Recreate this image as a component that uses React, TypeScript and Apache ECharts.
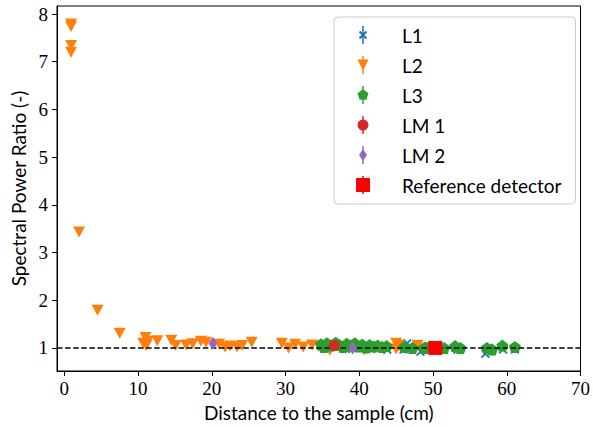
import React, { useEffect, useRef } from "react";
import * as echarts from "echarts";

// ---- data (distance cm, spectral power ratio) ----
const L1_POINTS: [number, number][] = [
  [34.9, 1.03], [35.6, 0.99], [37.0, 1.02], [38.2, 0.98], [39.4, 1.06],
  [40.5, 1.0], [41.6, 0.98], [42.6, 1.02], [43.8, 0.96], [46.0, 0.97],
  [46.5, 1.1], [48.3, 0.92], [49.4, 1.04], [53.3, 0.96], [57.1, 0.88],
  [57.5, 1.0], [59.5, 0.97], [61.1, 0.97],
];
const L2_POINTS: [number, number][] = [
  [0.9, 7.79], [0.9, 7.74], [0.9, 7.34], [0.9, 7.2],
  [2.0, 3.43], [4.5, 1.79], [7.5, 1.31],
  [10.7, 1.1], [11.0, 1.22], [11.1, 1.05], [11.3, 1.14],
  [12.6, 1.15], [14.5, 1.16], [15.1, 1.05], [16.5, 1.06], [17.4, 1.09],
  [18.5, 1.14], [19.2, 1.12], [21.0, 1.08], [21.8, 1.02], [22.5, 1.04],
  [23.4, 1.02], [24.1, 1.05], [25.4, 1.12],
  [29.5, 1.1], [30.4, 1.0], [31.3, 1.08], [32.4, 1.02], [33.6, 1.06],
  [36.0, 0.95], [40.7, 0.96], [45.0, 1.1], [45.0, 0.98], [45.4, 1.05],
  [47.9, 1.05],
];
const L3_POINTS: [number, number][] = [
  [34.8, 1.08], [35.2, 1.02], [35.6, 1.1], [36.1, 1.05], [36.8, 1.11],
  [37.3, 1.06], [37.8, 1.02], [38.3, 1.09], [38.8, 1.05], [39.4, 1.1],
  [39.9, 1.03], [40.4, 1.07], [40.9, 1.01], [41.4, 1.06], [41.9, 1.03],
  [42.5, 1.05], [43.1, 1.02], [43.7, 1.04],
  [46.1, 1.02], [47.2, 1.0], [48.8, 1.0], [49.5, 1.02], [51.5, 1.0],
  [53.0, 1.04], [53.7, 1.0], [57.3, 1.0], [58.0, 0.97], [59.4, 1.05],
  [61.1, 1.02],
];
const LM1_POINTS: [number, number][] = [[36.6, 1.05]];
const LM2_POINTS: [number, number][] = [[20.15, 1.1], [39.1, 1.0]];
const REF_POINTS: [number, number][] = [[50.3, 1.0]];

const SERIES_NAMES = ["L1", "L2", "L3", "LM 1", "LM 2", "Reference detector"];
const X_TICKS = [0, 10, 20, 30, 40, 50, 60, 70];
const Y_TICKS = [1, 2, 3, 4, 5, 6, 7, 8];
const REFERENCE_LEVEL = 1;

// ---- symbols ----
const SYM_X = "path://M1.4,0L10,8.6L8.6,10L0,1.4Z M8.6,0L10,1.4L1.4,10L0,8.6Z";
const SYM_TRI_DOWN = "path://M0,0L10,0L5,10Z";
const SYM_PENT =
  "path://M0,-1L0.951,-0.309L0.588,0.809L-0.588,0.809L-0.951,-0.309Z";
const SYM_THIN_DIAMOND = "path://M5,0L10,7L5,14L0,7Z";

// legend icons: 44x22 box, errorbar line + marker centred at (10,11)
const CORNERS = "M0,0L0.01,0L0.01,0.01Z M44,22L43.99,22L43.99,21.99Z ";
const ERRBAR = "M9.25,2L10.75,2L10.75,20L9.25,20Z ";
const ICONS = [
  "path://" + CORNERS + ERRBAR +
    "M7.2,6.8L14.2,13.8L12.8,15.2L5.8,8.2Z M12.8,6.8L14.2,8.2L7.2,15.2L5.8,13.8Z",
  "path://" + CORNERS + ERRBAR + "M4.5,5.5L15.5,5.5L10,16.5Z",
  "path://" + CORNERS + ERRBAR +
    "M10,5.2L15.52,9.21L13.41,15.69L6.59,15.69L4.48,9.21Z",
  "path://" + CORNERS + ERRBAR +
    "M10,5.5A5.5,5.5 0 1 1 10,16.5A5.5,5.5 0 1 1 10,5.5Z",
  "path://" + CORNERS + ERRBAR + "M10,5L14,11L10,17L6,11Z",
  "path://" + CORNERS + ERRBAR + "M3,4L17,4L17,18L3,18Z",
];

const SANS = "Lato";
const SERIF = "Liberation Serif";

export default function App() {
  const ref = useRef<HTMLDivElement>(null);

  useEffect(() => {
    if (!ref.current) return;
    const chart = echarts.init(ref.current, undefined, { renderer: "svg" });

    const scatter = (
      name: string,
      data: [number, number][],
      symbol: string,
      size: number | number[],
      color: string,
      z: number
    ) => ({
      name,
      type: "scatter",
      data,
      symbol,
      symbolSize: size,
      itemStyle: { color, opacity: 1 },
      z,
      emphasis: { disabled: true },
    });

    chart.setOption({
      animation: false,
      grid: {
        left: 57,
        right: 9,
        top: 6,
        bottom: 56,
        show: true,
        borderColor: "#000",
        borderWidth: 1,
        backgroundColor: "transparent",
      },
      legend: {
        orient: "vertical",
        left: 334,
        top: 17,
        itemWidth: 44,
        itemHeight: 22,
        itemGap: 8,
        padding: [7, 14, 8, 19],
        backgroundColor: "rgba(255,255,255,0.8)",
        borderColor: "#cccccc",
        borderWidth: 1,
        borderRadius: 4,
        selectedMode: false,
        textStyle: { fontFamily: SANS, fontSize: 19, color: "#000", lineHeight: 22 },
        data: SERIES_NAMES.map((n, i) => ({ name: n, icon: ICONS[i] })),
      },
      xAxis: {
        type: "value",
        min: -1,
        max: 70,
        name: "Distance to the sample (cm)",
        nameLocation: "middle",
        nameGap: 30,
        nameTextStyle: { fontFamily: SANS, fontSize: 19, color: "#000" },
        axisLine: { show: true, onZero: false, lineStyle: { color: "#000", width: 1 } },
        axisTick: { show: true, length: 5, customValues: X_TICKS, lineStyle: { color: "#000" } },
        axisLabel: { customValues: X_TICKS, fontFamily: SERIF, fontSize: 19, color: "#000", margin: 8 },
        splitLine: { show: false },
      },
      yAxis: {
        type: "value",
        min: 0.517,
        max: 8.168,
        name: "Spectral Power Ratio (-)",
        nameLocation: "middle",
        nameGap: 28,
        nameTextStyle: { fontFamily: SANS, fontSize: 19, color: "#000" },
        axisLine: { show: true, onZero: false, lineStyle: { color: "#000", width: 1 } },
        axisTick: { show: true, length: 5, customValues: Y_TICKS, lineStyle: { color: "#000" } },
        axisLabel: { customValues: Y_TICKS, fontFamily: SERIF, fontSize: 19, color: "#000", margin: 9 },
        splitLine: { show: false },
      },
      series: [
        {
          name: "ref-line",
          type: "line",
          data: [],
          z: 1,
          markLine: {
            silent: true,
            symbol: "none",
            label: { show: false },
            lineStyle: { color: "#000", type: [5.5, 2.6], width: 1.5 },
            data: [{ yAxis: REFERENCE_LEVEL }],
          },
        },
        scatter(SERIES_NAMES[0], L1_POINTS, SYM_X, 9, "#1f77b4", 2),
        scatter(SERIES_NAMES[1], L2_POINTS, SYM_TRI_DOWN, [12, 11], "#ff7f0e", 3),
        scatter(SERIES_NAMES[2], L3_POINTS, SYM_PENT, 12, "#2ca02c", 4),
        scatter(SERIES_NAMES[3], LM1_POINTS, "circle", 11, "#d62728", 5),
        scatter(SERIES_NAMES[4], LM2_POINTS, SYM_THIN_DIAMOND, [9, 13], "#9467bd", 6),
        scatter(SERIES_NAMES[5], REF_POINTS, "rect", 14, "#ff0000", 7),
      ],
    });

    return () => chart.dispose();
  }, []);

  return (
    <div
      ref={ref}
      style={{ position: "fixed", left: 0, top: 0, width: 593, height: 427, background: "#fff" }}
    />
  );
}
